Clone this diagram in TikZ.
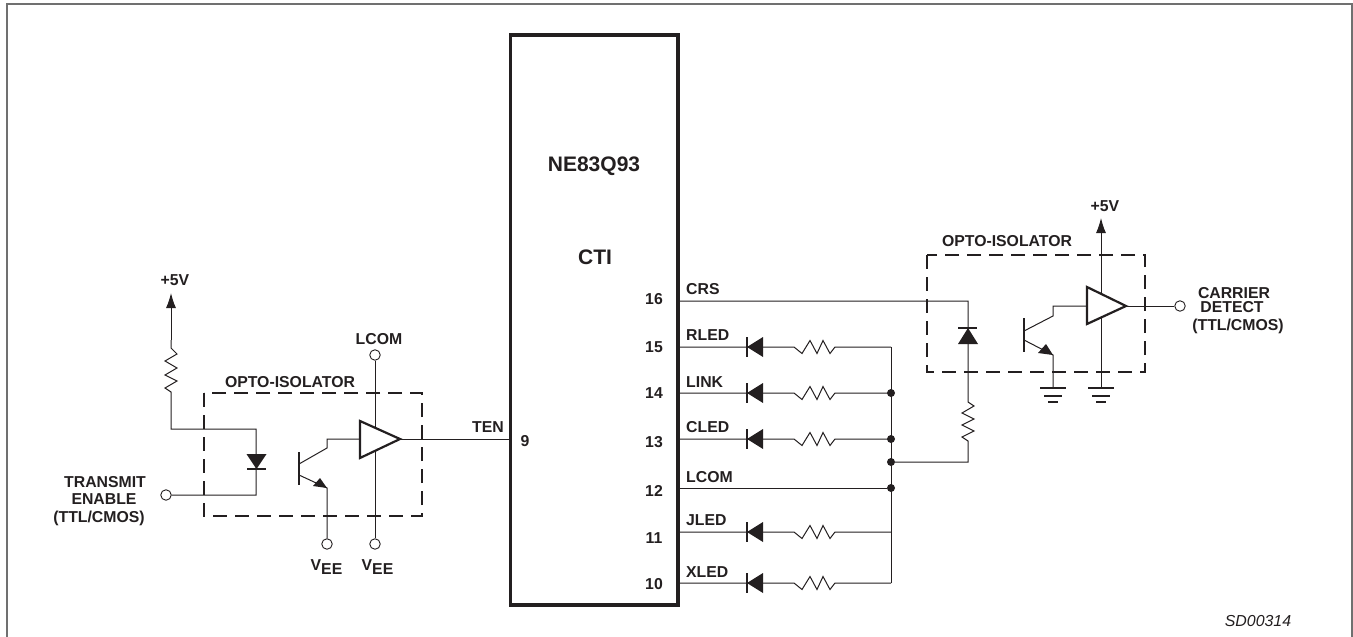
\documentclass[tikz,border=0pt]{standalone}
\usepackage{fontspec}
\setmainfont{Liberation Sans}
\usetikzlibrary{arrows.meta}
\definecolor{ink}{HTML}{231F20}
\definecolor{framec}{HTML}{707070}
\tikzset{
 x=1pt,y=-1pt,
 wire/.style={draw=ink,line width=1pt},
 lab/.style={font=\fontsize{15.8}{15.8}\selectfont\bfseries,text=ink,inner sep=0pt},
 lableft/.style={lab,anchor=west},
 big/.style={font=\fontsize{21}{21}\selectfont\bfseries,text=ink,inner sep=0pt},
 dbox/.style={draw=ink,line width=2.5pt,dash pattern=on 14pt off 8pt},
 term/.style={circle,draw=ink,line width=0.9pt,fill=white,minimum size=10.5pt,inner sep=0pt},
 jdot/.style={circle,fill=ink,minimum size=8pt,inner sep=0pt},
 chipbox/.style={draw=ink,line width=3.5pt,outer sep=0pt},
 buf/.style={draw=ink,line width=2.2pt,fill=white},
 solidf/.style={fill=ink,draw=none},
 bar/.style={draw=ink,line width=1.2pt},
 pwr/.style={wire,-{Latex[length=15pt,width=10pt]}},
}
% horizontal LED + resistor branch: #1 = y
\newcommand{\ledbranch}[2]{%
 \coordinate (#2p) at (680,#1);
 \coordinate (#2b) at (891,#1);
 \draw[wire] (#2p) -- (794,#1) -- (802,{#1+6.5}) -- (810,{#1-6.5}) -- (817,{#1+6.5}) -- (823,{#1-6.5}) -- (830,{#1+6.5}) -- (835,#1) -- (#2b);
 \draw[bar] (747,{#1-10}) -- (747,{#1+10});
 \fill[solidf] (747,#1) -- (763,{#1-10}) -- (763,{#1+10}) -- cycle;
}
\begin{document}
\begin{tikzpicture}
\useasboundingbox (0,0) rectangle (1353,637);
\draw[draw=framec,line width=1.5pt] (7,637) -- (7,4) -- (1352,4) -- (1352,637);
% chip
\node[chipbox,minimum width=167.5pt,minimum height=570pt,inner sep=0pt,anchor=north west] (chip) at (510.5,35) {};
\node[big] (name) at (594,166) {NE83Q93};
\node[big] (cti) at (595,257) {CTI};
% pins
\node[lab] (n16) at (654,299) {16};
\node[lab] (n15) at (654,347) {15};
\node[lab] (n14) at (654,393) {14};
\node[lab] (n13) at (654,442) {13};
\node[lab] (n12) at (654,491) {12};
\node[lab] (n11) at (654,538) {11};
\node[lab] (n10) at (654,584) {10};
\node[lab] (n9) at (525,441) {9};
\node[lableft] (lcrs) at (686,289) {CRS};
\node[lableft] (lrled) at (686,335) {RLED};
\node[lableft] (llink) at (686,382) {LINK};
\node[lableft] (lcled) at (686,427) {CLED};
\node[lableft] (llcom) at (686,477) {LCOM};
\node[lableft] (ljled) at (686,520) {JLED};
\node[lableft] (lxled) at (686,572) {XLED};
% LED branches
\ledbranch{347}{r}
\ledbranch{393}{l}
\ledbranch{439}{c}
\ledbranch{532}{j}
\ledbranch{583}{x}
% bus
\node[jdot] (d1) at (891,393) {};
\node[jdot] (d2) at (891,439) {};
\node[jdot] (d3) at (891,462) {};
\node[jdot] (d4) at (891,488) {};
\draw[wire] (rb) -- (xb);
\draw[wire] (680,488) -- (d4);
% right opto
\draw[wire] (680,301) -- (968,301) -- (968,402) -- (974,406) -- (962,413) -- (974,419) -- (962,425) -- (974,431) -- (962,437) -- (968,441) -- (968,462) -- (d3);
\draw[bar] (958,328) -- (977,328);
\fill[solidf] (968,328) -- (958,344) -- (978,344) -- cycle;
\draw[dbox] (927,255) rectangle (1145,372);
\node[lab] (optor) at (1007,241) {OPTO-ISOLATOR};
\coordinate (gndb) at (1053,388);
\draw[pwr] (1101,388) -- (1101,218);
\node[lab] (p5r) at (1105,206) {+5V};
\draw[wire] (1087,306) -- (1053,306) -- (1053,316) -- (1024,331);
\draw[wire] (1024,340) -- (1053,355) -- (gndb);
\fill[solidf] (1053,355) -- (1038,353) -- (1046,344) -- cycle;
\draw[draw=ink,line width=1.6pt] (1024,318) -- (1024,352);
\draw[buf] (1087,287) -- (1126,306) -- (1087,324) -- cycle;
\node[term] (tc) at (1180,306) {};
\draw[wire] (1126,306) -- (tc);
\foreach \g in {1053,1101}{
 \draw[bar] (\g-13,388) -- (\g+13,388);
 \draw[bar] (\g-9,396) -- (\g+9,396);
 \draw[bar] (\g-5,402) -- (\g+5,402);
}
\node[lab] (cd1) at (1234,293) {CARRIER};
\node[lab] (cd2) at (1232,307) {DETECT};
\node[lab] (cd3) at (1238,326) {(TTL/CMOS)};
% left opto
\node[term] (te) at (166,495) {};
\draw[pwr] (171,340) -- (171,293);
\draw[wire] (171,340) -- (171,348) -- (177,354) -- (165,361) -- (177,368) -- (165,375) -- (177,381) -- (165,388) -- (171,392) -- (171,429) -- (256,429) -- (256,495) -- (te);
\fill[solidf] (246.5,454) -- (266.5,454) -- (256.5,469) -- cycle;
\draw[bar] (247,469) -- (266,469);
\draw[dbox] (204,393) rectangle (422,516);
\node[lab] (optol) at (290,382) {OPTO-ISOLATOR};
\node[term] (lc) at (375,355) {};
\node[term] (v2) at (375,544) {};
\node[term] (v1) at (327,544) {};
\draw[wire] (lc) -- (v2);
\draw[wire] (360,439) -- (327,439) -- (327,448) -- (299,464);
\draw[wire] (299,475) -- (327,488) -- (v1);
\fill[solidf] (327,488) -- (313,486) -- (320,478) -- cycle;
\draw[draw=ink,line width=1.6pt] (299,452) -- (299,485);
\draw[buf] (360,421) -- (400,439) -- (360,458) -- cycle;
\draw[wire] (400,439) -- (512,439);
\node[lab] (lcl) at (379,339) {LCOM};
\node[lab] (p5l) at (175,280) {+5V};
\node[lab] (ten) at (488,427) {TEN};
\node[lab] (t1) at (105,482) {TRANSMIT};
\node[lab] (t2) at (104,499) {ENABLE};
\node[lab] (t3) at (99,518) {(TTL/CMOS)};
\node[lab,anchor=base] (ve1) at (326.5,570) {V\raisebox{-4pt}{EE}};
\node[lab,anchor=base] (ve2) at (377.5,570) {V\raisebox{-4pt}{EE}};
\node[font=\fontsize{15.9}{15.9}\selectfont\itshape,text=ink,inner sep=0pt] (sd) at (1258,621) {SD00314};
\end{tikzpicture}
\end{document}
